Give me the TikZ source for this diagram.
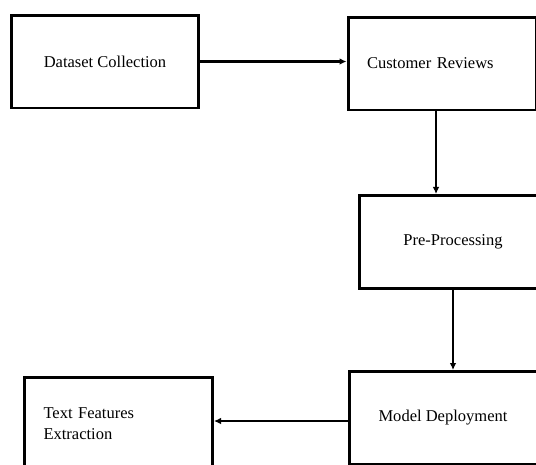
\documentclass[tikz,border=0pt]{standalone}
\usepackage{fontspec}
\setmainfont{Liberation Serif}
\usepackage{tikz}
\usetikzlibrary{arrows.meta,positioning,calc}

\begin{document}
\begin{tikzpicture}[
    x=0.02cm, y=-0.02cm,
    >={Latex[length=4pt,width=3.8pt]},
    font=\fontsize{9.4}{11.6}\selectfont,
    stage/.style={draw=black, line width=1.7pt, align=center, minimum width=3.76cm, minimum height=1.86cm},
    leftstage/.style={stage, inner xsep=0.38cm, text width=3.0cm, align=left},
    flow/.style={->, line width=1.6pt}
]
\useasboundingbox (0,0) rectangle (536,464);
\clip (0,0) rectangle (536,464);
\node[stage] (data) at (105,61.5) {Dataset Collection};
\node[leftstage] (reviews) at (442,63.5) {Customer Reviews};
\node[stage] (pre) at (453,242) {Pre-Processing};
\node[stage] (model) at (443,418) {Model Deployment};
\node[leftstage] (feat) at (118.5,423.5) {Text Features\\Extraction};
\draw[flow] (data.east) -- (data.east -| reviews.west);
\draw[flow] ([xshift=-0.12cm]reviews.south) -- ([xshift=-0.12cm]reviews.south |- pre.north);
\draw[flow] (pre.south) -- (pre.south |- model.north);
\draw[flow] ([yshift=-0.06cm]model.west) -- ([yshift=-0.06cm]model.west -| feat.east);
\end{tikzpicture}
\end{document}
